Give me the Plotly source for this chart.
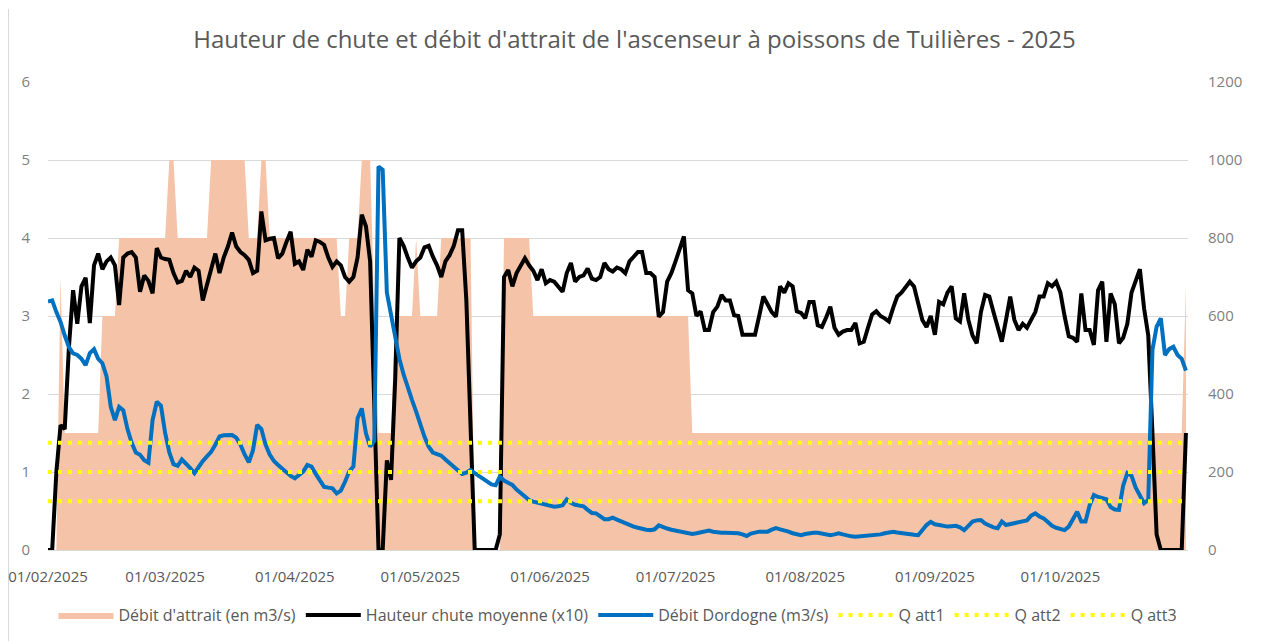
import pandas as pd
import plotly.graph_objects as go

# ---------------- data ----------------
start_date = "2025-02-01"
n_days = 273
dates = pd.date_range(start_date, periods=n_days, freq="D")

tick_dates = ["2025-02-01", "2025-03-01", "2025-04-01", "2025-05-01", "2025-06-01",
              "2025-07-01", "2025-08-01", "2025-09-01", "2025-10-01"]
tick_labels = ["01/02/2025", "01/03/2025", "01/04/2025", "01/05/2025", "01/06/2025",
               "01/07/2025", "01/08/2025", "01/09/2025", "01/10/2025"]

# Débit d'attrait (m3/s), left axis
debit_attrait = [
    0, 0, 0, 3.5, 1.5, 1.5, 1.5, 1.5, 1.5, 1.5,
    1.5, 1.5, 1.5, 3, 3, 3, 3, 4, 4, 4,
    4, 4, 4, 4, 4, 4, 4, 4, 4, 5,
    5, 4, 4, 4, 4, 4, 4, 4, 4, 5,
    5, 5, 5, 5, 5, 5, 5, 5, 4, 4,
    4, 5, 5, 4, 4, 4, 4, 4, 4, 4,
    4, 4, 4, 4, 4, 4, 4, 4, 4, 4,
    3, 3, 4, 4, 4, 5, 5, 5, 3, 1.5,
    1.5, 1.5, 1.5, 3, 3, 3, 3, 3, 4, 3,
    3, 3, 3, 3, 4, 4, 4, 4, 4, 4,
    4, 4, 0, 0, 0, 0, 0, 0, 0, 4,
    4, 4, 4, 4, 4, 4, 3, 3, 3, 3,
    3, 3, 3, 3, 3, 3, 3, 3, 3, 3,
    3, 3, 3, 3, 3, 3, 3, 3, 3, 3,
    3, 3, 3, 3, 3, 3, 3, 3, 3, 3,
    3, 3, 3, 3, 1.5, 1.5, 1.5, 1.5, 1.5, 1.5,
    1.5, 1.5, 1.5, 1.5, 1.5, 1.5, 1.5, 1.5, 1.5, 1.5,
    1.5, 1.5, 1.5, 1.5, 1.5, 1.5, 1.5, 1.5, 1.5, 1.5,
    1.5, 1.5, 1.5, 1.5, 1.5, 1.5, 1.5, 1.5, 1.5, 1.5,
    1.5, 1.5, 1.5, 1.5, 1.5, 1.5, 1.5, 1.5, 1.5, 1.5,
    1.5, 1.5, 1.5, 1.5, 1.5, 1.5, 1.5, 1.5, 1.5, 1.5,
    1.5, 1.5, 1.5, 1.5, 1.5, 1.5, 1.5, 1.5, 1.5, 1.5,
    1.5, 1.5, 1.5, 1.5, 1.5, 1.5, 1.5, 1.5, 1.5, 1.5,
    1.5, 1.5, 1.5, 1.5, 1.5, 1.5, 1.5, 1.5, 1.5, 1.5,
    1.5, 1.5, 1.5, 1.5, 1.5, 1.5, 1.5, 1.5, 1.5, 1.5,
    1.5, 1.5, 1.5, 1.5, 1.5, 1.5, 1.5, 1.5, 1.5, 1.5,
    1.5, 1.5, 1.5, 1.5, 1.5, 1.5, 1.5, 1.5, 1.5, 1.5,
    1.5, 1.5, 3.4,
]

# Hauteur chute moyenne (x10), left axis
hauteur_chute = [
    0, 0, 1.0, 1.6, 1.55, 2.6, 3.33, 2.9, 3.38, 3.49,
    2.91, 3.65, 3.8, 3.6, 3.7, 3.75, 3.65, 3.14, 3.75, 3.8,
    3.82, 3.75, 3.31, 3.52, 3.45, 3.29, 3.87, 3.75, 3.73, 3.72,
    3.55, 3.43, 3.45, 3.58, 3.5, 3.62, 3.58, 3.2, 3.4, 3.6,
    3.8, 3.55, 3.75, 3.89, 4.07, 3.89, 3.82, 3.78, 3.72, 3.55,
    3.58, 4.34, 3.97, 3.99, 4.0, 3.74, 3.8, 3.95, 4.08, 3.67,
    3.7, 3.59, 3.85, 3.76, 3.97, 3.95, 3.91, 3.75, 3.63, 3.7,
    3.65, 3.5, 3.44, 3.5, 3.75, 4.3, 4.15, 3.7, 2.0, 0,
    0, 1.15, 0.9, 2.2, 4.0, 3.9, 3.75, 3.62, 3.7, 3.75,
    3.88, 3.9, 3.76, 3.65, 3.5, 3.7, 3.78, 3.9, 4.1, 4.1,
    3.2, 1.5, 0, 0, 0, 0, 0, 0, 0.2, 3.5,
    3.59, 3.38, 3.55, 3.65, 3.74, 3.65, 3.58, 3.46, 3.6, 3.42,
    3.46, 3.44, 3.38, 3.31, 3.55, 3.68, 3.44, 3.5, 3.52, 3.61,
    3.48, 3.46, 3.5, 3.68, 3.6, 3.57, 3.62, 3.6, 3.55, 3.7,
    3.76, 3.82, 3.82, 3.55, 3.55, 3.5, 2.99, 3.05, 3.44, 3.55,
    3.7, 3.85, 4.02, 3.33, 3.29, 3.0, 3.06, 2.82, 2.82, 3.05,
    3.12, 3.27, 3.2, 3.2, 3.01, 3.0, 2.76, 2.76, 2.76, 2.76,
    3.0, 3.25, 3.15, 3.05, 2.99, 3.38, 3.3, 3.42, 3.38, 3.06,
    3.04, 2.97, 3.18, 3.18, 2.88, 2.86, 2.98, 3.12, 2.85, 2.76,
    2.8, 2.82, 2.82, 2.91, 2.65, 2.67, 2.85, 3.02, 3.06, 3.0,
    2.97, 2.93, 3.1, 3.25, 3.3, 3.38, 3.44, 3.38, 3.15, 2.95,
    2.86, 3.0, 2.76, 3.18, 3.15, 3.3, 3.38, 2.97, 2.93, 3.29,
    2.95, 2.75, 2.65, 3.05, 3.27, 3.25, 3.05, 2.85, 2.67, 2.95,
    3.25, 2.95, 2.82, 2.9, 2.85, 2.95, 3.05, 3.25, 3.25, 3.42,
    3.38, 3.44, 3.3, 3.0, 2.74, 2.72, 2.67, 3.29, 2.82, 2.82,
    2.63, 3.33, 3.44, 2.67, 3.29, 3.15, 2.65, 2.72, 2.9, 3.3,
    3.45, 3.6, 3.1, 2.75, 1.5, 0.2, 0, 0, 0, 0,
    0, 0, 1.5,
]

# Débit Dordogne (m3/s), right axis
debit_dordogne = [
    637, 640, 610, 585, 550, 520, 504, 500, 490, 474,
    505, 515, 490, 479, 445, 367, 333, 367, 358, 310,
    275, 250, 244, 230, 224, 333, 380, 370, 300, 250,
    220, 216, 232, 222, 210, 197, 215, 228, 240, 252,
    270, 291, 294, 295, 295, 288, 270, 245, 225, 256,
    321, 310, 270, 245, 228, 218, 208, 197, 190, 184,
    192, 201, 218, 214, 195, 179, 162, 160, 158, 145,
    152, 175, 201, 214, 338, 363, 299, 265, 280, 983,
    975, 660, 600, 545, 490, 450, 415, 385, 355, 320,
    290, 265, 250, 246, 242, 232, 222, 212, 202, 195,
    198, 205, 197, 190, 184, 178, 168, 166, 188, 178,
    172, 167, 155, 145, 135, 128, 124, 121, 118, 116,
    113, 111, 112, 115, 130, 121, 116, 115, 112, 103,
    95, 94, 85, 79, 79, 83, 78, 73, 68, 64,
    60, 57, 54, 52, 51, 53, 63, 58, 55, 52,
    50, 48, 46, 44, 41, 43, 45, 48, 50, 47,
    45, 44, 44, 44, 44, 43, 40, 36, 42, 45,
    47, 47, 47, 52, 56, 53, 51, 47, 43, 40,
    38, 41, 43, 44, 44, 42, 40, 38, 40, 43,
    40, 37, 35, 34, 35, 36, 37, 37, 38, 40,
    43, 45, 47, 45, 43, 42, 40, 39, 38, 50,
    64, 72, 66, 64, 62, 60, 61, 62, 58, 51,
    62, 73, 76, 77, 68, 62, 58, 56, 73, 64,
    66, 68, 70, 73, 76, 88, 94, 86, 81, 72,
    62, 57, 53, 51, 60, 80, 98, 73, 73, 115,
    141, 136, 132, 130, 110, 104, 103, 165, 197, 190,
    160, 137, 120, 128, 513, 573, 594, 500, 515, 521,
    500, 490, 460,
]

q_att_names = ["Q att1", "Q att2", "Q att3"]
q_att_values = [125, 200, 275]   # m3/s, right axis

# ---------------- styles ----------------
GREY_TXT = "#595959"
AXIS_TXT = "#7F7F7F"
GRID = "#D9D9D9"
FONT = "Open Sans"

# the html page adds an 8px body margin: figure is sized so the page is 1261x642
FIG_W, FIG_H = 1253, 634
M_L, M_T = 40, 74
PLOT_W, PLOT_H = 1140, 468
M_R = FIG_W - M_L - PLOT_W
M_B = FIG_H - M_T - PLOT_H

fig = go.Figure()

fig.add_trace(go.Scatter(
    x=dates, y=debit_attrait, name="Débit d'attrait (en m3/s)",
    mode="lines", fill="tozeroy", fillcolor="#F5C4A8",
    line=dict(width=0, color="#F5C4A8"), yaxis="y",
))
fig.add_trace(go.Scatter(
    x=dates, y=hauteur_chute, name="Hauteur chute moyenne (x10)",
    mode="lines", line=dict(color="#000000", width=4), yaxis="y",
))
fig.add_trace(go.Scatter(
    x=dates, y=debit_dordogne, name="Débit Dordogne (m3/s)",
    mode="lines", line=dict(color="#0070C0", width=4), yaxis="y2",
))
for nm, val in zip(q_att_names, q_att_values):
    fig.add_trace(go.Scatter(
        x=[dates[0], dates[-1]], y=[val, val], name=nm,
        mode="lines", line=dict(color="#FFFF00", width=4, dash="4px,6px"),
        yaxis="y2",
    ))

fig.update_layout(
    width=FIG_W, height=FIG_H,
    margin=dict(l=M_L, r=M_R, t=M_T, b=M_B, autoexpand=False),
    paper_bgcolor="white", plot_bgcolor="white",
    font=dict(family=FONT, color=GREY_TXT),
    title=dict(
        text="Hauteur de chute et débit d'attrait de l'ascenseur à poissons de Tuilières - 2025",
        x=0.5, xanchor="center", xref="container",
        y=1 - 32 / FIG_H, yanchor="middle", yref="container",
        font=dict(family=FONT, size=24, color=GREY_TXT),
    ),
    xaxis=dict(
        type="date", automargin=False,
        range=["2025-02-01", "2025-10-31 12:00"],
        tickvals=tick_dates, ticktext=tick_labels,
        showgrid=False, zeroline=False,
        showline=True, linecolor=GRID, linewidth=1,
        ticks="outside", ticklen=13, tickcolor="rgba(0,0,0,0)",
        tickfont=dict(family=FONT, size=15, color=GREY_TXT),
    ),
    yaxis=dict(
        automargin=False,
        range=[0, 6], dtick=1, tick0=0,
        showgrid=True, gridcolor=GRID, gridwidth=1,
        zeroline=False, showline=False,
        ticks="outside", ticklen=14, tickcolor="rgba(0,0,0,0)",
        tickfont=dict(family=FONT, size=15, color=AXIS_TXT),
    ),
    yaxis2=dict(
        automargin=False,
        range=[0, 1200], dtick=200, tick0=0,
        overlaying="y", side="right",
        showgrid=False, zeroline=False, showline=False,
        ticks="outside", ticklen=16, tickcolor="rgba(0,0,0,0)",
        tickfont=dict(family=FONT, size=15, color=AXIS_TXT),
    ),
    legend=dict(
        orientation="h", x=0.5, xanchor="center",
        y=-65 / PLOT_H, yanchor="middle",
        font=dict(family=FONT, size=16, color=GREY_TXT),
        itemwidth=55,
        bgcolor="rgba(0,0,0,0)",
    ),
    shapes=[
        dict(type="line", xref="paper", yref="paper",
             x0=(0.5 - M_L) / PLOT_W, x1=(0.5 - M_L) / PLOT_W,
             y0=-(M_B - 1) / PLOT_H, y1=1 + (M_T - 1) / PLOT_H,
             line=dict(color=GRID, width=1), layer="below"),
        dict(type="line", xref="paper", yref="paper",
             x0=(FIG_W - 2 - M_L) / PLOT_W, x1=(FIG_W - 2 - M_L) / PLOT_W,
             y0=-(M_B - 1) / PLOT_H, y1=1 + (M_T - 1) / PLOT_H,
             line=dict(color=GRID, width=1), layer="below"),
    ],
)

fig.write_html("out.html")
